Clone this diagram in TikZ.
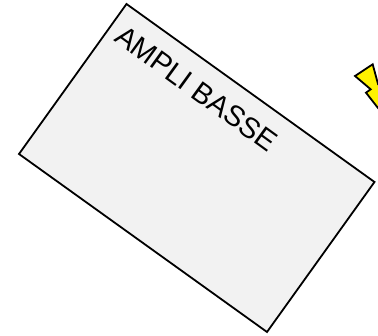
\documentclass[tikz,border=0pt]{standalone}
\usepackage{fontspec}
\setmainfont{Liberation Sans}
\definecolor{panelgray}{gray}{0.95}
\tikzset{
  panel/.style={draw=black,fill=panelgray,line width=1.8pt,line join=miter},
  bolt/.style={draw=black,fill=yellow,line width=1.8pt,line join=miter},
  paneltext/.style={anchor=base,rotate=-36,inner sep=0pt,font=\fontsize{29}{29}\selectfont}
}
\begin{document}
\begin{tikzpicture}[x=1pt,y=-1pt]
  \useasboundingbox (0,0) rectangle (378,336);
  \clip (0,0) rectangle (378,336);

  \coordinate (T) at (126.5,4);
  \coordinate (L) at (19,154);
  \coordinate (B) at (267,332);
  \coordinate (R) at (374.5,182);

  \path[panel] (T) -- (R) -- (B) -- (L) -- cycle;
  \node[paneltext] (ampli) at (190.6,96.6) {AMPLI BASSE};

  \coordinate (Z1) at (372.7,64.3);
  \coordinate (Z2) at (355,76);
  \coordinate (Z3) at (370.7,89.3);
  \coordinate (Z4) at (366,92.7);
  \coordinate (Z5) at (378,108);
  \coordinate (Z6) at (392,100);
  \coordinate (Z7) at (378,84);

  \path[bolt] (Z1) -- (Z2) -- (Z3) -- (Z4) -- (Z5) -- (Z6) -- (Z7) -- cycle;
\end{tikzpicture}
\end{document}
